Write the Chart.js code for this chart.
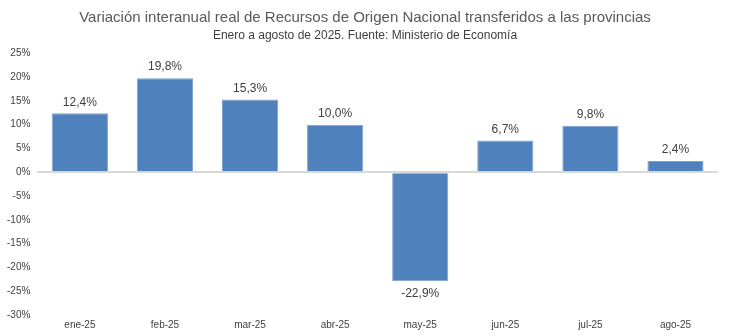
<!DOCTYPE html>
<html>
<head>
<meta charset="utf-8">
<script src="https://cdn.jsdelivr.net/npm/chart.js@4"></script>
<style>
  html, body { margin: 0; padding: 0; background: #fff; }
  #wrap { width: 730px; height: 336px; }
</style>
</head>
<body>
<div id="wrap"><canvas id="graf"></canvas></div>
<script>
// datos
const meses = ['ene-25', 'feb-25', 'mar-25', 'abr-25', 'may-25', 'jun-25', 'jul-25', 'ago-25'];
const variacion = [12.4, 19.8, 15.3, 10.0, -22.9, 6.7, 9.8, 2.4];

// etiquetas sobre/bajo cada barra
const etiquetas = {
    id: 'etiquetas',
    afterDatasetsDraw(chart) {
        const ctx = chart.ctx;
        const meta = chart.getDatasetMeta(0);
        ctx.save();
        ctx.font = '12px "Liberation Sans", Arial, sans-serif';
        ctx.fillStyle = '#404040';
        ctx.textAlign = 'center';
        meta.data.forEach((bar, i) => {
            const v = variacion[i];
            const txt = v.toFixed(1).replace('.', ',') + '%';
            if (v >= 0) {
                ctx.textBaseline = 'bottom';
                ctx.fillText(txt, bar.x, bar.y - 5);
            } else {
                ctx.textBaseline = 'top';
                ctx.fillText(txt, bar.x, bar.y + 6);
            }
        });
        ctx.restore();
    }
};

new Chart(document.getElementById('graf'), {
    type: 'bar',
    data: {
        labels: meses,
        datasets: [{
            data: variacion,
            backgroundColor: '#4F81BD',
            borderColor: '#7FA3D0',
            borderWidth: 1,
            barPercentage: 0.66,
            categoryPercentage: 1
        }]
    },
    plugins: [etiquetas],
    options: {
        responsive: true,
        maintainAspectRatio: false,
        animation: false,
        layout: { padding: { left: 0, right: 0, top: 0, bottom: 1 } },
        plugins: {
            legend: { display: false },
            tooltip: { enabled: false },
            title: {
                display: true,
                text: 'Variación interanual real de Recursos de Origen Nacional transferidos a las provincias',
                color: '#595959',
                font: { family: '"Liberation Sans", Arial, sans-serif', size: 15, weight: 'normal' },
                padding: { top: 9, bottom: 1 }
            },
            subtitle: {
                display: true,
                text: 'Enero a agosto de 2025. Fuente: Ministerio de Economía',
                color: '#404040',
                font: { family: '"Liberation Sans", Arial, sans-serif', size: 12 },
                padding: { top: 0, bottom: 11 }
            }
        },
        scales: {
            x: {
                grid: { display: false, drawTicks: false },
                border: { display: false },
                ticks: {
                    color: '#404040',
                    font: { family: '"Liberation Sans", Arial, sans-serif', size: 10 },
                    padding: 4
                }
            },
            y: {
                min: -30,
                max: 25,
                border: { display: false },
                grid: {
                    drawTicks: false,
                    lineWidth: ctx => ctx.tick && ctx.tick.value === 0 ? 2 : 0,
                    color: '#D9D9D9'
                },
                ticks: {
                    stepSize: 5,
                    color: '#404040',
                    padding: 7,
                    font: { family: '"Liberation Sans", Arial, sans-serif', size: 10 },
                    callback: v => v + '%'
                }
            },
            // eje vacío a la derecha, solo para dejar margen
            margen: {
                position: 'right',
                grid: { display: false, drawTicks: false },
                border: { display: false },
                ticks: { display: false },
                afterFit: s => { s.width = 12; }
            }
        }
    }
});
</script>
</body>
</html>
